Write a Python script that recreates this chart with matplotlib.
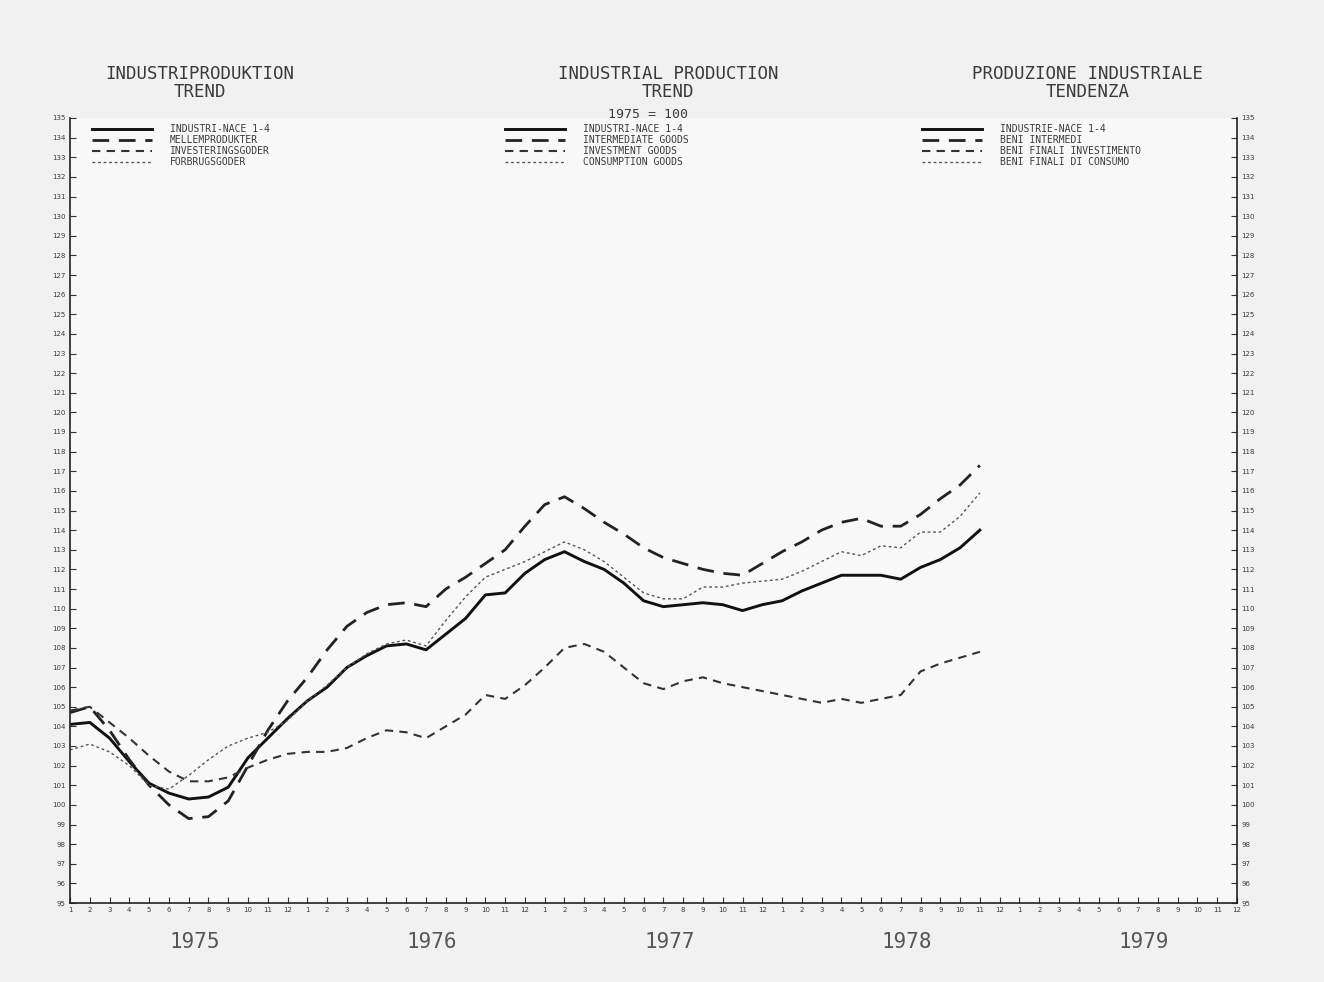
import numpy as np
import matplotlib
matplotlib.use('Agg')
import matplotlib.pyplot as plt
from matplotlib.lines import Line2D

# monthly index values, 1975 = 100, Jan 1975 .. Nov 1978
total = [104.1, 104.2, 103.4, 102.2, 101.1, 100.6, 100.3, 100.4, 100.9, 102.4, 103.4, 104.4,
         105.3, 106.0, 107.0, 107.6, 108.1, 108.2, 107.9, 108.7, 109.5, 110.7, 110.8, 111.8,
         112.5, 112.9, 112.4, 112.0, 111.3, 110.4, 110.1, 110.2, 110.3, 110.2, 109.9, 110.2,
         110.4, 110.9, 111.3, 111.7, 111.7, 111.7, 111.5, 112.1, 112.5, 113.1, 114.0]
intermediate = [104.7, 105.0, 103.8, 102.3, 101.0, 100.0, 99.3, 99.4, 100.2, 102.0, 103.8, 105.3,
                106.5, 107.9, 109.1, 109.8, 110.2, 110.3, 110.1, 111.0, 111.6, 112.3, 113.0, 114.2,
                115.3, 115.7, 115.1, 114.4, 113.8, 113.1, 112.6, 112.3, 112.0, 111.8, 111.7, 112.3,
                112.9, 113.4, 114.0, 114.4, 114.6, 114.2, 114.2, 114.8, 115.6, 116.3, 117.3]
investment = [104.8, 105.0, 104.2, 103.4, 102.5, 101.7, 101.2, 101.2, 101.4, 101.9, 102.3, 102.6,
              102.7, 102.7, 102.9, 103.4, 103.8, 103.7, 103.4, 104.0, 104.6, 105.6, 105.4, 106.1,
              107.0, 108.0, 108.2, 107.8, 107.0, 106.2, 105.9, 106.3, 106.5, 106.2, 106.0, 105.8,
              105.6, 105.4, 105.2, 105.4, 105.2, 105.4, 105.6, 106.8, 107.2, 107.5, 107.8]
consumption = [102.8, 103.1, 102.7, 102.0, 101.0, 100.8, 101.5, 102.3, 103.0, 103.4, 103.7, 104.3,
               105.3, 106.1, 107.0, 107.7, 108.2, 108.4, 108.1, 109.4, 110.6, 111.6, 112.0, 112.4,
               112.9, 113.4, 113.0, 112.4, 111.6, 110.8, 110.5, 110.5, 111.1, 111.1, 111.3, 111.4,
               111.5, 111.9, 112.4, 112.9, 112.7, 113.2, 113.1, 113.9, 113.9, 114.7, 115.9]

years = ['1975', '1976', '1977', '1978', '1979']
labels_dk = ['INDUSTRI-NACE 1-4', 'MELLEMPRODUKTER', 'INVESTERINGSGODER', 'FORBRUGSGODER']
labels_en = ['INDUSTRI-NACE 1-4', 'INTERMEDIATE GOODS', 'INVESTMENT GOODS', 'CONSUMPTION GOODS']
labels_it = ['INDUSTRIE-NACE 1-4', 'BENI INTERMEDI', 'BENI FINALI INVESTIMENTO', 'BENI FINALI DI CONSUMO']

mono = 'DejaVu Sans Mono'
txt = '#3a3a3a'

styles = [dict(color='#111111', lw=2.1, ls='-'),
          dict(color='#222222', lw=2.0, ls=(0, (6, 3.5))),
          dict(color='#333333', lw=1.5, ls=(0, (4, 3))),
          dict(color='#555555', lw=1.0, ls=(0, (2, 2)))]

fig = plt.figure(figsize=(13.24, 9.82), dpi=100, facecolor='#f1f1f1')
ax = fig.add_axes([70 / 1324, 1 - 903 / 982, (1237 - 70) / 1324, (903 - 118) / 982])
ax.set_facecolor('#f8f8f8')

x = np.arange(len(total))
for series, st in zip([total, intermediate, investment, consumption], styles):
    ax.plot(x, series, **st)

ax.set_xlim(0, 59)
ax.set_ylim(95, 135)
ax.spines['top'].set_visible(False)
for s in ['left', 'right', 'bottom']:
    ax.spines[s].set_color('#222222')
    ax.spines[s].set_linewidth(1.2)

months = np.arange(60)
ax.set_xticks(months)
ax.set_xticklabels([str(m % 12 + 1) for m in months], fontsize=5, color=txt)
ax.set_yticks(np.arange(95, 136))
ax.set_yticklabels([str(v) for v in range(95, 136)], fontsize=5, color=txt)
ax.tick_params(axis='both', direction='in', length=4, width=0.8, color='#333333', pad=3)
ax.tick_params(axis='y', left=True, right=True, labelleft=True, labelright=True)

for k, yr in enumerate(years):
    ax.text(12 * k + 6.3, -0.05, yr, transform=ax.get_xaxis_transform(), ha='center', va='center',
            fontsize=15, color='#555555', family=mono)

# headers
heads = [(200, 'INDUSTRIPRODUKTION\nTREND'),
         (668, 'INDUSTRIAL PRODUCTION\nTREND'),
         (1088, 'PRODUZIONE INDUSTRIALE\nTENDENZA')]
for hx, h in heads:
    fig.text(hx / 1324, 1 - 83 / 982, h, ha='center', va='center', fontsize=12.5,
             color=txt, family=mono, linespacing=1.0)
fig.text(648 / 1324, 1 - 115 / 982, '1975 = 100', ha='center', va='center', fontsize=9.5,
         color=txt, family=mono)

# legends
rows = [129, 140, 151, 162]
for lx, labs in [(92, labels_dk), (505, labels_en), (922, labels_it)]:
    for ry, lab, st in zip(rows, labs, styles):
        yy = 1 - ry / 982
        fig.add_artist(Line2D([lx / 1324, (lx + 60) / 1324], [yy, yy], **st))
        fig.text((lx + 78) / 1324, yy, lab, ha='left', va='center', fontsize=7,
                 color=txt, family=mono)

fig.savefig('out.png', dpi=100, facecolor=fig.get_facecolor())
